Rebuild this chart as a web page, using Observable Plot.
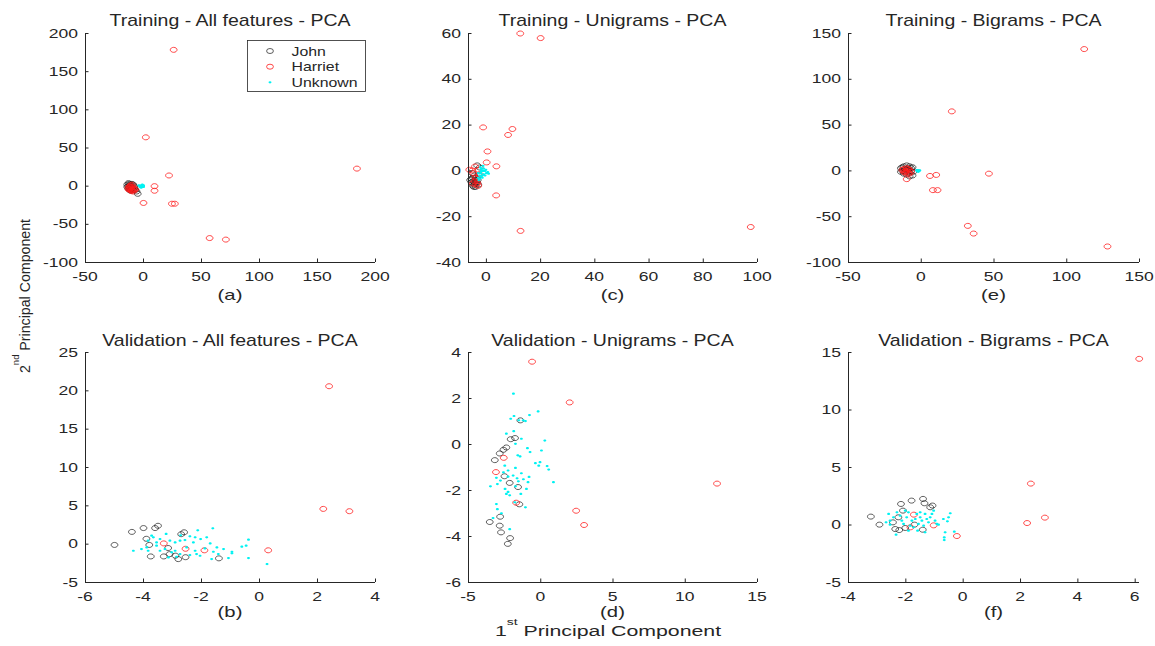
<!DOCTYPE html>
<html><head><meta charset="utf-8">
<script src="https://cdn.jsdelivr.net/npm/d3@7"></script>
<script src="https://cdn.jsdelivr.net/npm/@observablehq/plot@0.6"></script>
<style>
body{margin:0;background:#fff;}
#root{position:relative;width:1155px;height:646px;overflow:hidden;background:#fff;font-family:"Liberation Sans",Arial,Helvetica,sans-serif;color:#262626;}
#overlay{position:absolute;left:0;top:0;}
</style></head>
<body><div id="root"></div>
<script>
// ---------- DATA ----------
// Training - All features
const aJohn = [[-14,2],[-13,0],[-12,3],[-11,1],[-12,-2],[-10,-1],[-13,-3],[-9,2],[-11,-4],[-8,-2],[-10,3],[-14,-1],[-12,1],[-9,-5],[-7,-5],[-5,-10],[-11,-6],[-13,4],[-8,0],[-10,-3],[-6,-7],[-12,-5]];
const aHarriet = [[26,178.6],[2,64],[184,23],[22,14],[9.5,0],[9.5,-6],[0,-22],[24.5,-23],[27,-23],[57,-68],[71,-70],
  [-12,-1],[-11,-3],[-10,-5],[-9,-4],[-12,-4],[-10,-1],[-11,1],[-13,-2],[-9,-2],[-10,-6],[-8,-5],[-12,0],[-11,-6],[-13,-4],[-7,-4],[-9,-7],[-10,2]];
const aUnknown = [[-3,0],[-2,1],[-1,-1],[-2,-2],[-1,1],[0,0],[-3,-1],[-1,0],[-2,0],[0,-1],[-4,1],[-2,-1],[-1,2],[0,1]];
// Training - Unigrams
const cJohn = [[-3.4,2.4],[-2.5,1.5],[-4.5,-2],[-5,-3],[-4,-4],[-5.5,-5],[-4.5,-6],[-3.5,-5],[-5,-6.5],[-4,-7],[-3,-6],[-5.5,-3.5],[-4.8,-4.5],[-3.8,-3],[-5.2,-1],[-4.2,-5.5],[-3.2,-4],[-4.6,-7],[-2.8,-2],[-6,-4]];
const cHarriet = [[12.5,60],[20,58],[-1.2,19],[9.6,18.3],[8,15.7],[0.4,8.5],[0.1,3.7],[3.7,2],[-6.3,0.5],[-5.2,0.2],[3.6,-10.7],[12.6,-26.2],[97.5,-24.5],
  [-4.2,1.9],[-4,-2.8],[-4.4,-4.5],[-3.3,-5.3],[-3.8,-6],[-3,0.5],[-4.8,-1],[-3.6,-3.5],[-5,-5.5],[-2.5,-1.5],[-3,-6.5]];
const cUnknown = [[-3,-3],[-2.5,-2],[-2,-1],[-1.5,0],[-1,1],[-0.5,0],[0,-1],[0.5,-0.5],[-1,-1.5],[-2,-2.5],[-1.5,-2],[-2.5,-3.5],[-3,-1],[-1.8,0.8],[-1.2,2.2],[-2.2,1.5],[0.8,-1.2],[-0.5,-2],[-1.5,-3],[-2.8,-4],[-0.2,0.5],[-1,0],[-2,0]];
// Training - Bigrams
const eJohn = [[-14,3],[-12,5],[-10,6],[-8,5],[-6,4],[-13,0],[-11,2],[-9,1],[-7,0],[-5.5,-1],[-12,-3],[-10,-4],[-8,-6],[-6,-5],[-14,-1],[-9,3],[-11,-1],[-7,3],[-13,4],[-8,-2]];
const eHarriet = [[112,133],[21,65],[6,-5.5],[10.3,-4.4],[46.5,-3],[8,-21],[11.2,-21],[32,-60],[36,-68.4],[128,-82.5],
  [-12,2],[-10,0],[-9,-2],[-11,-2],[-8,1],[-10,3],[-12,-1],[-9,2],[-7,-1],[-11,0],[-10,-9],[-13,1],[-8,-3]];
const eUnknown = [[-3,0],[-2,0.5],[-2.5,-0.5],[-1.5,0],[-3,1],[-2,-1],[-1,0.5],[-2.5,0.8]];
// Validation - All features
const bJohn = [[-5,-0.1],[-4.4,1.6],[-4,2.1],[-3.6,2.1],[-3.5,2.4],[-3.9,0.7],[-3.8,-0.1],[-3.75,-1.6],[-3.3,-1.6],[-3.15,-0.5],[-3.1,-1.3],[-2.9,-1.5],[-2.8,-1.95],[-2.7,1.3],[-2.6,1.55],[-2.55,-1.7],[-1.4,-1.85]];
const bHarriet = [[2.4,20.6],[2.2,4.6],[3.1,4.3],[0.3,-0.8],[-3.3,0.1],[-2.55,-0.6],[-1.9,-0.8]];
const bUnknown = [[-1.61,2.07],[-2.13,1.8],[-2.72,1.15],[-2.4,1.02],[-2.22,0.89],[-3.09,0.45],[-3.55,0.23],[-3.66,0.89],[-3.84,0.45],[-3.43,0.67],[-2.91,0.23],[-2.74,0.45],[-2.57,0.54],[-2.28,0.23],[-2.03,0.67],[-1.82,0.89],[-1.7,0.1],[-1.47,-0.42],[-1.24,-0.64],[-0.95,-0.99],[-0.61,-0.33],[-0.46,-0.2],[-0.38,0.58],[-0.38,-1.81],[-1.07,-1.81],[-1.65,-1.94],[-2.17,-1.29],[-2.4,-1.42],[-2.74,-1.29],[-3.03,-1.07],[-3.26,-0.64],[-3.55,-0.2],[-3.89,-0.42],[-4.07,-0.64],[-4.35,-0.86],[-3.84,-0.86],[-3.43,-0.86],[-2.91,-0.86],[-2.22,-0.86],[-1.88,-0.55],[-1.59,-0.99],[-1.42,-1.29],[-0.95,-1.2],[0.26,-2.6],[-3.22,1.33],[-3.72,1.11],[-2.51,-0.42],[-3.14,-1.73],[-2.86,-1.64],[-2.05,-1.51]];
// Validation - Unigrams
const dJohn = [[-1.41,1.05],[-2.08,0.23],[-1.78,0.28],[-2.58,-0.23],[-2.38,-0.13],[-2.84,-0.39],[-3.18,-0.68],[-2.51,-1.38],[-2.15,-1.67],[-1.57,-1.85],[-1.48,-2.6],[-2.81,-3.14],[-3.53,-3.37],[-2.84,-3.53],[-2.75,-3.82],[-2.12,-4.07],[-2.28,-4.32]];
const dHarriet = [[-0.6,3.6],[2.0,1.83],[12.2,-1.7],[2.45,-2.88],[3.0,-3.5],[-2.56,-0.58],[-3.1,-1.2],[-1.7,-2.53]];
const dUnknown = [[-1.89,2.21],[-1.85,1.24],[-0.18,1.44],[-0.78,1.28],[-2.08,1.12],[-1.22,1.05],[-1.06,1.02],[-1.87,0.58],[-1.34,0.25],[-1.75,0.03],[-0.92,-0.16],[-0.74,-0.33],[0.05,-0.26],[-1.59,-0.47],[-1.43,-0.52],[-1.75,-1.02],[-0.37,-0.81],[-0.14,-0.92],[-0.05,-0.77],[0.44,-0.94],[0.55,-1.09],[-2.49,-0.92],[-2.26,-1.13],[-2.58,-1.21],[-2.26,-1.4],[-1.91,-1.35],[-1.64,-1.47],[-0.81,-1.41],[-1.2,-1.51],[-2.79,-1.57],[-3.0,-1.72],[-3.48,-1.82],[-2.47,-1.93],[-1.75,-1.82],[-1.55,-1.6],[-0.99,-1.93],[-1.38,-2.15],[-2.26,-2.06],[-2.15,-2.21],[-2.38,-2.15],[-1.8,-2.51],[-1.06,-2.73],[-3.07,-2.59],[-3.0,-2.81],[-2.72,-2.99],[-3.3,-3.2],[-2.15,-3.68],[0.88,-1.64],[-0.88,-1.64],[-1.34,-1.25],[0.28,0.17],[-2.38,0.47],[-1.52,1.05],[-3.07,-1.45]];
// Validation - Bigrams
const fJohn = [[-3.22,0.73],[-2.92,0.03],[-2.17,1.83],[-1.8,2.12],[-1.4,2.27],[-1.35,1.89],[-1.15,1.54],[-1.07,1.69],[-2.1,1.25],[-2.26,0.67],[-2.45,0.23],[-2.37,-0.35],[-2.23,-0.44],[-2.02,-0.26],[-1.7,0.03],[-1.41,-0.41]];
const fHarriet = [[6.14,14.45],[2.36,3.6],[2.85,0.64],[2.23,0.17],[-0.22,-0.96],[-1.03,-0.03],[-1.72,0.9],[-1.84,-0.2]];
const fUnknown = [[-2.6,0.96],[-2.55,0.38],[-2.43,0.67],[-2.31,1.1],[-2.2,0.81],[-2.14,0.38],[-2.08,0.09],[-1.97,0.67],[-1.91,1.1],[-1.79,0.38],[-1.73,-0.2],[-1.67,0.52],[-1.62,0.96],[-1.56,0.09],[-1.5,0.67],[-1.44,0.38],[-1.38,-0.06],[-1.33,0.96],[-1.27,0.52],[-1.21,0.23],[-1.15,0.67],[-1.09,0.96],[-1.03,1.25],[-0.98,0.38],[-0.92,0.09],[-0.86,0.03],[-0.69,0.52],[-0.55,0.32],[-0.45,1.02],[-0.51,0.67],[-0.63,-0.64],[-0.66,-1.31],[-0.66,-1.08],[-0.31,-0.58],[-1.91,-0.49],[-1.59,-0.49],[-1.33,-0.64],[-2.55,0.03],[-2.69,0.23],[-2.34,-0.84],[-1.85,-0.06],[-1.5,1.1],[-2.02,1.25]];

// Tick values
const aXT = [-50,0,50,100,150,200], aYT = [-100,-50,0,50,100,150,200];
const cXT = [0,20,40,60,80,100],    cYT = [-40,-20,0,20,40,60];
const eXT = [-50,0,50,100,150],     eYT = [-100,-50,0,50,100,150];
const bXT = [-6,-4,-2,0,2,4],       bYT = [-5,0,5,10,15,20,25];
const dXT = [-5,0,5,10,15],         dYT = [-6,-4,-2,0,2,4];
const fXT = [-4,-2,0,2,4,6],        fYT = [-5,0,5,10,15];

const titles = ["Training - All features - PCA","Training - Unigrams - PCA","Training - Bigrams - PCA",
                "Validation - All features - PCA","Validation - Unigrams - PCA","Validation - Bigrams - PCA"];
const subLabels = ["(a)","(c)","(e)","(b)","(d)","(f)"];
const seriesNames = ["John","Harriet","Unknown"];

// ---------- STYLE / LAYOUT ----------
const FONT = '"Liberation Sans", Arial, Helvetica, sans-serif';
const INK = "#262626";
const C_JOHN = "#1a1a1a", C_HARRIET = "#ff1a1a", C_UNKNOWN = "#00f2f2";
const ELL = 1.36;
const ellipse = {
  draw(ctx, size) {
    const r = Math.sqrt(size / Math.PI), rx = r * ELL, ry = r, k = 0.5523;
    ctx.moveTo(rx, 0);
    ctx.bezierCurveTo(rx, ry * k, rx * k, ry, 0, ry);
    ctx.bezierCurveTo(-rx * k, ry, -rx, ry * k, -rx, 0);
    ctx.bezierCurveTo(-rx, -ry * k, -rx * k, -ry, 0, -ry);
    ctx.bezierCurveTo(rx * k, -ry, rx, -ry * k, rx, 0);
    ctx.closePath();
  }
};

const panels = [
  {left:85,  top:33,  w:290, h:229, xd:[-50,200], yd:[-100,200], xt:aXT, yt:aYT, J:aJohn, H:aHarriet, U:aUnknown, row:0},
  {left:468, top:33,  w:289, h:229, xd:[-6.6,100], yd:[-40,60], xt:cXT, yt:cYT, J:cJohn, H:cHarriet, U:cUnknown, row:0},
  {left:848, top:33,  w:291, h:229, xd:[-50,150], yd:[-100,150], xt:eXT, yt:eYT, J:eJohn, H:eHarriet, U:eUnknown, row:0},
  {left:85,  top:352, w:290, h:230, xd:[-6,4], yd:[-5,25], xt:bXT, yt:bYT, J:bJohn, H:bHarriet, U:bUnknown, row:1},
  {left:468, top:352, w:289, h:230, xd:[-5,15], yd:[-6,4], xt:dXT, yt:dYT, J:dJohn, H:dHarriet, U:dUnknown, row:1},
  {left:848, top:352, w:291, h:230, xd:[-4,6.15], yd:[-5,15], xt:fXT, yt:fYT, J:fJohn, H:fHarriet, U:fUnknown, row:1}
];
const titleBase = [25.5, 345.5];
const subBase = [300, 617];

const root = document.getElementById("root");
const mL = 50, mR = 20, mT = 10, mB = 40;
const NS = "http://www.w3.org/2000/svg";

// overlay for all text
const ov = document.createElementNS(NS, "svg");
ov.setAttribute("id", "overlay");
ov.setAttribute("width", 1155); ov.setAttribute("height", 646);
ov.setAttribute("font-family", FONT);

function txt(x, y, str, size, sx, anchor = "middle", rot = 0) {
  const t = document.createElementNS(NS, "text");
  t.setAttribute("transform", `translate(${x},${y})${rot ? ` rotate(${rot})` : ""} scale(${sx},1)`);
  t.setAttribute("font-size", size);
  t.setAttribute("fill", INK);
  t.setAttribute("text-anchor", anchor);
  if (str !== null) t.textContent = str;
  ov.appendChild(t);
  return t;
}

const TICK_FS = 12.8, TICK_SX = 1.37;

panels.forEach((p, i) => {
  const svg = Plot.plot({
    width: p.w + mL + mR, height: p.h + mT + mB,
    marginLeft: mL, marginRight: mR, marginTop: mT, marginBottom: mB,
    x: {domain: p.xd}, y: {domain: p.yd},
    style: {fontFamily: FONT, fontSize: "12.5px", color: INK, background: "transparent", overflow: "visible"},
    marks: [
      Plot.dot(p.J, {x: d => d[0], y: d => d[1], symbol: ellipse, r: 2.5, stroke: C_JOHN, strokeWidth: 0.7, fill: "none"}),
      Plot.dot(p.H, {x: d => d[0], y: d => d[1], symbol: ellipse, r: 2.5, stroke: C_HARRIET, strokeWidth: 0.8, fill: "none"}),
      Plot.dot(p.U, {x: d => d[0], y: d => d[1], symbol: ellipse, r: 1.1, fill: C_UNKNOWN, stroke: "none"}),
      Plot.ruleX([p.xd[0]], {stroke: INK, strokeWidth: 1}),
      Plot.ruleY([p.yd[0]], {stroke: INK, strokeWidth: 1}),
      Plot.axisX(p.xt, {tickSize: -3.5, stroke: INK, label: null}),
      Plot.axisY(p.yt, {tickSize: -3.5, stroke: INK, label: null})
    ]
  });
  // tick labels are redrawn (horizontally widened) in the overlay, from Plot's own scales
  svg.querySelectorAll("text").forEach(t => t.remove());
  const ox = p.left - mL, oy = p.top - mT;
  svg.style.position = "absolute";
  svg.style.left = ox + "px";
  svg.style.top = oy + "px";
  root.appendChild(svg);

  const xs = svg.scale("x"), ys = svg.scale("y");
  p.xt.forEach(v => txt(ox + xs.apply(v), p.top + p.h + 19.2, String(v), TICK_FS, TICK_SX));
  p.yt.forEach(v => txt(p.left - 7, oy + ys.apply(v) + 4.6, String(v), TICK_FS, TICK_SX, "end"));

  const cx = p.left + p.w / 2;
  txt(cx, titleBase[p.row], titles[i], 16, 1.22);
  txt(cx, subBase[p.row], subLabels[i], 14, 1.45);
});
root.appendChild(ov);

// x label with superscript
{
  const t = txt(608, 636, null, 14.6, 1.46);
  const a = document.createElementNS(NS, "tspan"); a.textContent = "1"; t.appendChild(a);
  const b = document.createElementNS(NS, "tspan"); b.textContent = "st"; b.setAttribute("font-size", 9.5); b.setAttribute("dy", -11); t.appendChild(b);
  const c = document.createElementNS(NS, "tspan"); c.textContent = " Principal Component"; c.setAttribute("dy", 11); t.appendChild(c);
}
// y label with superscript
{
  const t = txt(29.5, 296, null, 14.2, 1, "middle", -90);
  const a = document.createElementNS(NS, "tspan"); a.textContent = "2"; t.appendChild(a);
  const b = document.createElementNS(NS, "tspan"); b.textContent = "nd"; b.setAttribute("font-size", 9.5); b.setAttribute("dy", -11); t.appendChild(b);
  const c = document.createElementNS(NS, "tspan"); c.textContent = " Principal Component"; c.setAttribute("dy", 11); t.appendChild(c);
}

// legend (panel a)
{
  const box = document.createElementNS(NS, "rect");
  box.setAttribute("x", 247.5); box.setAttribute("y", 40.5);
  box.setAttribute("width", 118); box.setAttribute("height", 51);
  box.setAttribute("fill", "#fff"); box.setAttribute("stroke", INK); box.setAttribute("stroke-width", 0.8);
  ov.appendChild(box);
  const rows = [51, 66.7, 82.3];
  const styles = [
    {stroke: C_JOHN, fill: "none", rx: 3.4, ry: 2.5, sw: 0.7},
    {stroke: C_HARRIET, fill: "none", rx: 3.4, ry: 2.5, sw: 0.8},
    {stroke: "none", fill: C_UNKNOWN, rx: 1.5, ry: 1.1, sw: 0}
  ];
  seriesNames.forEach((name, i) => {
    const e = document.createElementNS(NS, "ellipse");
    e.setAttribute("cx", 270); e.setAttribute("cy", rows[i]);
    e.setAttribute("rx", styles[i].rx); e.setAttribute("ry", styles[i].ry);
    e.setAttribute("fill", styles[i].fill); e.setAttribute("stroke", styles[i].stroke);
    e.setAttribute("stroke-width", styles[i].sw);
    ov.appendChild(e);
    txt(291.5, rows[i] + 4.6, name, 13, 1.22, "start");
  });
}
</script>
</body></html>
